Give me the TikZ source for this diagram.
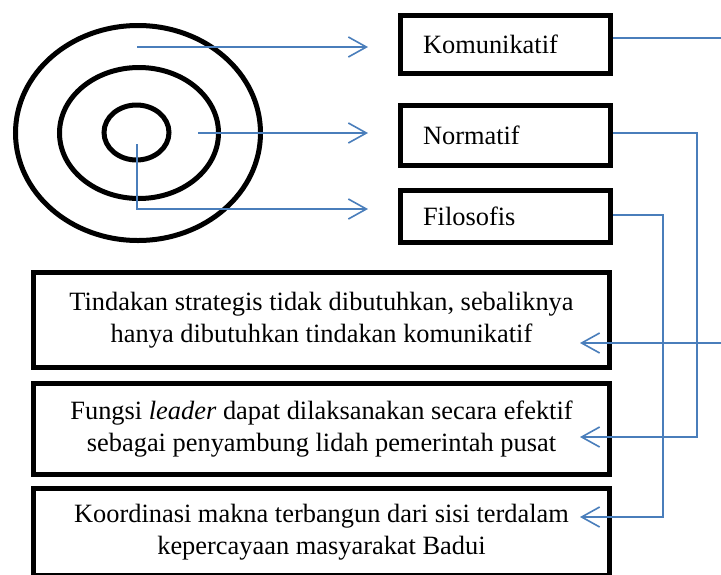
\documentclass[tikz,border=0pt]{standalone}
\usepackage{fontspec}
\setmainfont{Liberation Serif}
\usetikzlibrary{shapes.geometric,arrows.meta}
\definecolor{lineblue}{RGB}{74,126,187}
\tikzset{
  ring/.style={ellipse,draw=black,line width=5pt,inner sep=0pt},
  topbox/.style={draw=black,line width=5pt,inner sep=0pt,text width=165pt,align=left,
    font=\fontsize{26.4}{32}\selectfont},
  bigbox/.style={draw=black,line width=5pt,inner sep=0pt,minimum width=576pt,align=center,
    font=\fontsize{26.4}{32}\selectfont},
  conn/.style={draw=lineblue,line width=1.6pt,-{Straight Barb[length=18pt,width=20pt]}},
}
\begin{document}
\begin{tikzpicture}[x=1pt,y=-1pt]
\useasboundingbox (0,0) rectangle (721,574);
\begin{scope}
\clip (0,0) rectangle (721,574);
% rings
\node[ring,minimum width=245pt,minimum height=215pt] (outer) at (138,133) {};
\node[ring,minimum width=159pt,minimum height=131pt] (middle) at (139,133) {};
\node[ring,minimum width=65pt,minimum height=55pt] (inner) at (136.5,132.5) {};
% top boxes
\node[topbox,minimum width=210pt,minimum height=58pt] (komu) at (505.5,44.5) {Komunikatif};
\node[topbox,minimum width=210pt,minimum height=60pt] (norm) at (505.5,135.5) {Normatif};
\node[topbox,minimum width=210pt,minimum height=52pt] (filo) at (505.5,216.5) {Filosofis};
% bottom boxes
\node[bigbox,minimum height=95pt] (b1) at (321.5,320) {Tindakan strategis tidak dibutuhkan, sebaliknya\\hanya dibutuhkan tindakan komunikatif};
\node[bigbox,minimum height=91pt] (b2) at (321.5,429) {Fungsi \textit{leader} dapat dilaksanakan secara efektif\\sebagai penyambung lidah pemerintah pusat};
\node[bigbox,minimum height=87pt] (b3) at (321.5,532) {Koordinasi makna terbangun dari sisi terdalam\\kepercayaan masyarakat Badui};
% start points inside the rings
\coordinate (s1) at (137,47);
\coordinate (s2) at (198,133);
\coordinate (s3) at (137,144);
\coordinate (e1) at (368,47);
\coordinate (e2) at (368,133);
\coordinate (e3) at (368,209);
\draw[conn] (s1) -- (e1);
\draw[conn] (s2) -- (e2);
\draw[conn] (s3) |- (e3);
% right connectors
\coordinate (t1) at (580,343);
\coordinate (t2) at (580,437);
\coordinate (t3) at (580,517);
\draw[conn] ([yshift=6.5pt]komu.east) -- (730,38) |- (t1);
\draw[conn] ([yshift=2.5pt]norm.east) -- (697,133) |- (t2);
\draw[conn] ([yshift=1.5pt]filo.east) -- (663,215) |- (t3);
\end{scope}
\end{tikzpicture}
\end{document}
